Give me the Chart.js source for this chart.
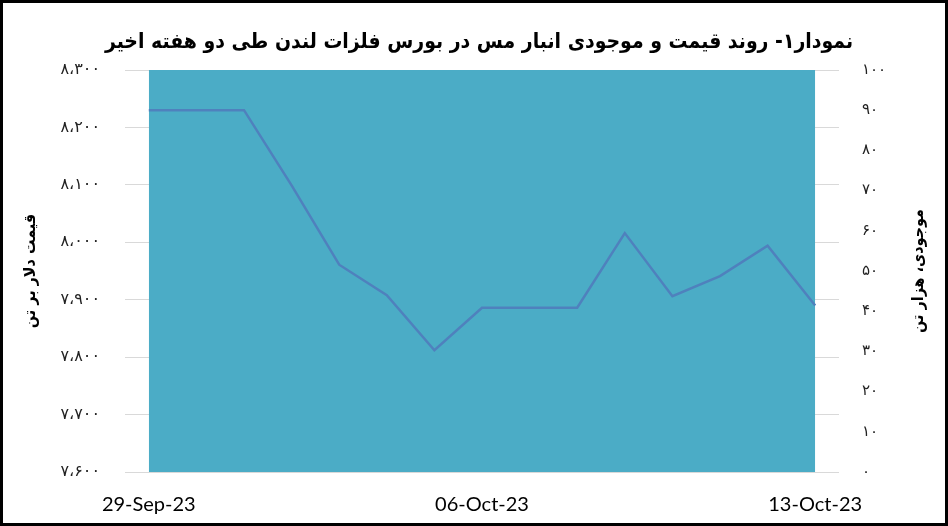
<!DOCTYPE html>
<html><head><meta charset="utf-8">
<script src="https://cdn.jsdelivr.net/npm/chart.js@4.4.0/dist/chart.umd.min.js"></script>
<style>
html,body{margin:0;padding:0;background:#fff;}
#frame{width:948px;height:526px;box-sizing:border-box;border:3px solid #000;background:#fff;}
canvas{display:block;}
</style></head><body>
<div id="frame"><canvas id="c" width="942" height="520"></canvas></div>
<script>
const titleText = 'نمودار۱- روند قیمت و موجودی انبار مس در بورس فلزات لندن طی دو هفته اخیر';
const leftAxisTitle = 'قیمت دلار بر تن';
const rightAxisTitle = 'موجودی، هزار تن';
const dates = ['29-Sep-23','30-Sep-23','01-Oct-23','02-Oct-23','03-Oct-23','04-Oct-23','05-Oct-23','06-Oct-23','07-Oct-23','08-Oct-23','09-Oct-23','10-Oct-23','11-Oct-23','12-Oct-23','13-Oct-23'];
const shownDates = ['29-Sep-23','06-Oct-23','13-Oct-23'];
const copperPrice = [8230,8230,8230,8099,7961,7908,7812,7886,7886,7886,8016,7906,7941,7994,7890];
const copperStock = [100,100,100,100,100,100,100,100,100,100,100,100,100,100,100];
const priceTicks = [7600,7700,7800,7900,8000,8100,8200,8300];
const stockTicks = [0,10,20,30,40,50,60,70,80,90,100];

const faDigits = '۰۱۲۳۴۵۶۷۸۹';
function toFa(n, sep) {
  let s = String(n);
  if (sep) s = s.replace(/\B(?=(\d{3})+(?!\d))/g, '،');
  return s.replace(/\d/g, d => faDigits[+d]);
}

const condFont = '"DejaVu Sans Condensed", "DejaVu Sans"';

const rightTitlePlugin = {
  id: 'rightTitle',
  afterDraw(chart) {
    const a = chart.chartArea;
    const ctx = chart.ctx;
    ctx.save();
    ctx.translate(916, (a.top + a.bottom) / 2);
    ctx.rotate(-Math.PI / 2);
    ctx.font = 'bold 16px ' + condFont;
    ctx.fillStyle = '#000';
    ctx.textAlign = 'center';
    ctx.textBaseline = 'middle';
    ctx.fillText(rightAxisTitle, 0, 0);
    ctx.restore();
  }
};

new Chart(document.getElementById('c'), {
  type: 'line',
  data: {
    labels: dates,
    datasets: [
      {
        label: 'قیمت',
        data: copperPrice,
        yAxisID: 'y',
        borderColor: '#4F81BD',
        borderWidth: 2.5,
        pointRadius: 0,
        tension: 0,
        fill: false,
        order: 0
      },
      {
        label: 'موجودی',
        data: copperStock,
        yAxisID: 'y2',
        backgroundColor: '#4BACC6',
        borderColor: '#4BACC6',
        borderWidth: 0,
        pointRadius: 0,
        fill: 'start',
        order: 1
      }
    ]
  },
  options: {
    responsive: false,
    animation: false,
    layout: { padding: { left: 10, right: 0, top: 0, bottom: 0 } },
    plugins: {
      legend: { display: false },
      tooltip: { enabled: false },
      title: {
        display: true,
        text: titleText,
        color: '#000',
        font: { family: condFont, size: 21, weight: 'bold', lineHeight: 1.2 },
        padding: { top: 27.4, bottom: 14.4 }
      }
    },
    scales: {
      x: {
        offset: true,
        grid: { display: false },
        border: { display: false },
        ticks: {
          autoSkip: false,
          maxRotation: 0,
          minRotation: 0,
          padding: 13,
          color: '#000',
          font: { family: 'Lato', size: 20 },
          callback: function(v, i) { const l = dates[i]; return shownDates.includes(l) ? l : ''; }
        },
        afterFit(s) { s.height = 51; }
      },
      y: {
        position: 'left',
        min: priceTicks[0],
        max: priceTicks[priceTicks.length - 1],
        grid: { color: '#d9d9d9', lineWidth: 1, drawTicks: false },
        border: { display: false },
        ticks: {
          stepSize: 100,
          padding: 25,
          color: '#222',
          font: { family: 'DejaVu Sans', size: 16 },
          callback: v => toFa(v, true)
        },
        title: {
          display: true,
          text: leftAxisTitle,
          color: '#000',
          font: { family: condFont, size: 16, weight: 'bold', lineHeight: 1.2 },
          padding: { top: 8, bottom: 0 }
        },
        afterFit(s) { s.width = 112; }
      },
      y2: {
        position: 'right',
        min: stockTicks[0],
        max: stockTicks[stockTicks.length - 1],
        grid: { display: false, drawTicks: false },
        border: { display: false },
        ticks: {
          stepSize: 10,
          padding: 23,
          color: '#222',
          font: { family: 'DejaVu Sans', size: 15 },
          callback: v => toFa(v, false)
        },
        afterFit(s) { s.width = 106; }
      }
    }
  },
  plugins: [rightTitlePlugin]
});
</script>
</body></html>
